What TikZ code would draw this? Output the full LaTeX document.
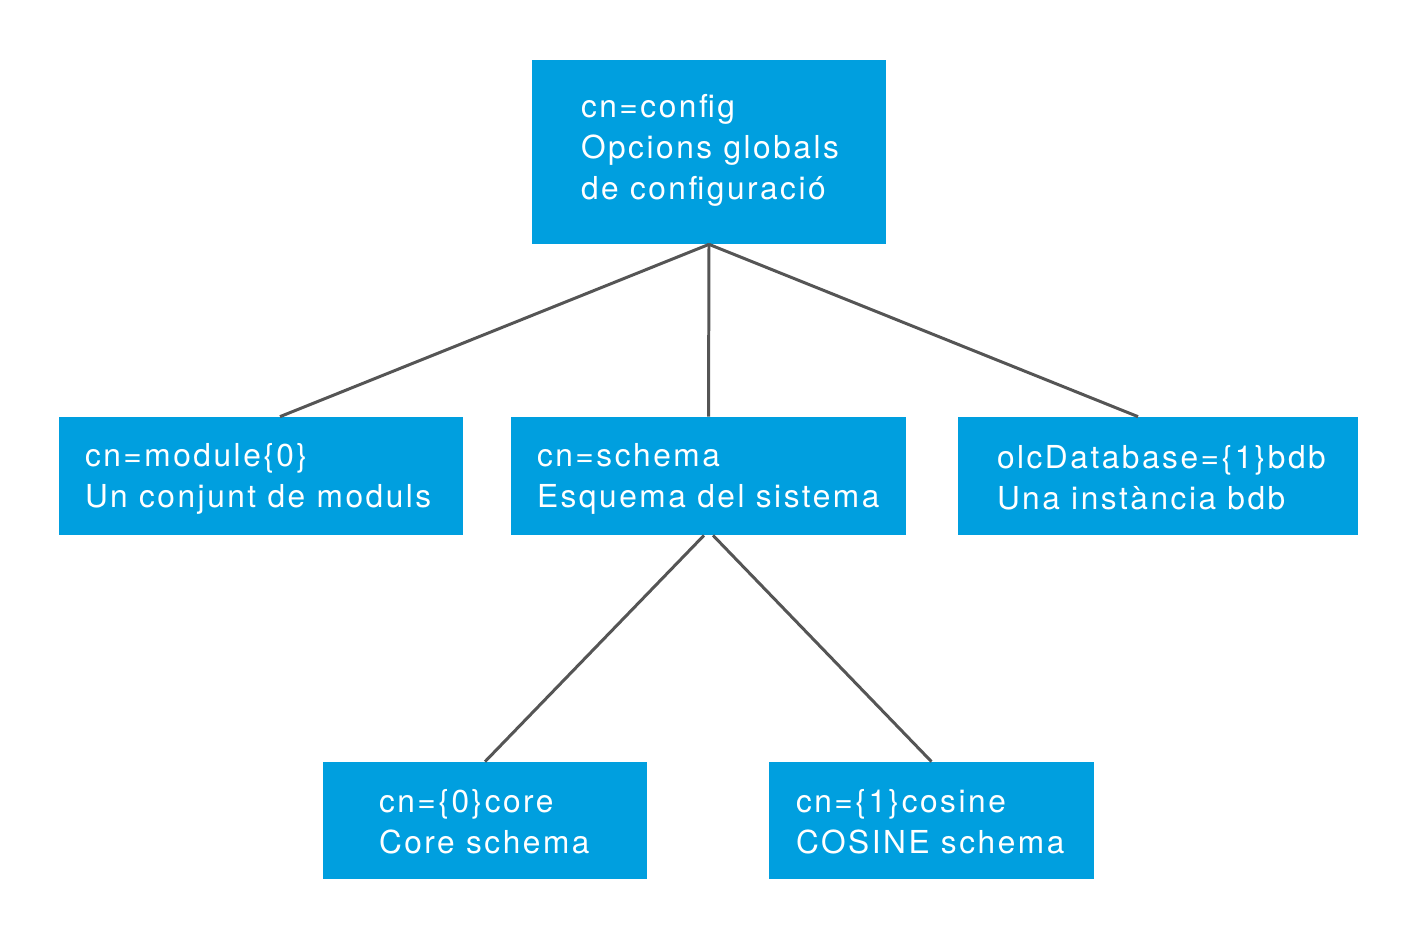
\documentclass[tikz,border=0pt]{standalone}
\usepackage{fontspec}
\setmainfont[LetterSpace=8]{TeX Gyre Heros}
\usetikzlibrary{positioning}
\definecolor{boxblue}{RGB}{0,159,223}
\definecolor{linkgray}{RGB}{85,85,85}
\tikzset{
  entry/.style={rectangle,fill=boxblue,draw=none,inner sep=0pt},
  entrytext/.style={font=\fontsize{18}{23.3}\selectfont,text=white,align=left,anchor=west,inner sep=0pt},
  link/.style={draw=linkgray,line width=1.7pt}
}

\begin{document}
\begin{tikzpicture}
\useasboundingbox (0,0) rectangle (28.34,-18.88);
\node[entry,minimum width=7.08cm,minimum height=3.68cm] (config) at (14.18,-3.04) {};
\node[entry,minimum width=8.08cm,minimum height=2.36cm] (module) at (5.22,-9.52) {};
\node[entry,minimum width=7.9cm,minimum height=2.36cm] (schema) at (14.17,-9.52) {};
\node[entry,minimum width=8.0cm,minimum height=2.36cm] (bdb) at (23.16,-9.52) {};
\node[entry,minimum width=6.48cm,minimum height=2.34cm] (core) at (9.70,-16.41) {};
\node[entry,minimum width=6.5cm,minimum height=2.34cm] (cosine) at (18.63,-16.41) {};

\node[entrytext] (configtext) at ([xshift=0.98cm,yshift=0.04cm]config.west) {cn=config\\Opcions globals\\de configuració};
\node[entrytext] (moduletext) at ([xshift=0.52cm,yshift=-0.06cm]module.west) {cn=module\{0\}\\Un conjunt de moduls};
\node[entrytext] (schematext) at ([xshift=0.52cm,yshift=-0.06cm]schema.west) {cn=schema\\Esquema del sistema};
\node[entrytext] (bdbtext) at ([xshift=0.78cm,yshift=-0.04cm]bdb.west) {olcDatabase=\{1\}bdb\\Una instància bdb};
\node[entrytext] (coretext) at ([xshift=1.12cm,yshift=-0.02cm]core.west) {cn=\{0\}core\\Core schema};
\node[entrytext] (cosinetext) at ([xshift=0.54cm,yshift=-0.02cm]cosine.west) {cn=\{1\}cosine\\COSINE schema};

\draw[link] (config.south) -- ([xshift=0.38cm]module.north);
\draw[link] (config.south) -- (schema.north);
\draw[link] (config.south) -- ([xshift=-0.40cm]bdb.north);
\draw[link] ([xshift=-0.09cm]schema.south) -- (core.north);
\draw[link] ([xshift=0.09cm]schema.south) -- (cosine.north);
\end{tikzpicture}
\end{document}
